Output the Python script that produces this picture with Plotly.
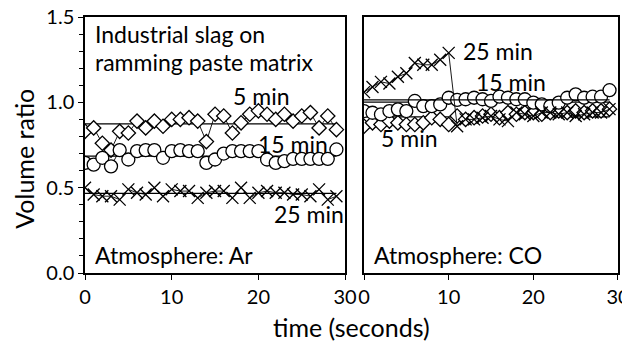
import plotly.graph_objects as go

# time (s)
t = list(range(30))

# Atmosphere: Ar
ar_5 = [0.83, 0.85, 0.76, 0.72, 0.83, 0.82, 0.89, 0.85, 0.89, 0.86,
        0.90, 0.90, 0.91, 0.89, 0.77, 0.93, 0.92, 0.82, 0.88, 0.93,
        0.95, 0.93, 0.90, 0.93, 0.89, 0.92, 0.94, 0.85, 0.92, 0.84]
ar_15 = [0.645, 0.635, 0.675, 0.625, 0.72, 0.665, 0.714, 0.72, 0.72, 0.675,
         0.714, 0.72, 0.714, 0.714, 0.645, 0.665, 0.70, 0.714, 0.714, 0.714,
         0.714, 0.665, 0.645, 0.655, 0.669, 0.669, 0.669, 0.669, 0.669, 0.724]
ar_25 = [0.50, 0.46, 0.45, 0.45, 0.43, 0.49, 0.47, 0.46, 0.50, 0.45,
         0.49, 0.48, 0.48, 0.44, 0.47, 0.48, 0.48, 0.44, 0.50, 0.44,
         0.47, 0.48, 0.47, 0.47, 0.46, 0.46, 0.45, 0.49, 0.43, 0.45]

# Atmosphere: CO
co_5 = [0.86, 0.88, 0.87, 0.89, 0.88, 0.87, 0.87, 0.88, 0.91, 0.90,
        0.87, 0.92, 0.90, 0.91, 0.92, 0.93, 0.91, 0.94, 0.93, 0.94,
        0.94, 0.93, 0.94, 0.95, 0.94, 0.95, 0.94, 0.95, 0.95, 0.96]
co_15 = [0.949, 0.939, 0.929, 0.949, 0.959, 0.949, 1.008, 0.978, 0.978, 0.988,
         1.027, 1.014, 1.018, 1.027, 1.018, 1.008, 1.033, 1.027, 1.018, 1.018,
         0.998, 0.988, 0.978, 0.998, 1.027, 1.047, 1.027, 1.033, 1.033, 1.071]
co_25 = [1.06, 1.09, 1.12, 1.11, 1.15, 1.17, 1.23, 1.22, 1.22, 1.25,
         1.29, 0.86, 0.90, 0.90, 0.91, 0.92, 0.90, 0.89, 0.94, 0.93,
         0.92, 0.94, 0.94, 0.93, 0.94, 0.92, 0.93, 0.94, 0.94, 0.96]

y_ticks = [0.0, 0.5, 1.0, 1.5]
x_ticks = [0, 10, 20, 30]

FONT = "Lato"
TICK_SIZE = 20
ANN_SIZE = 23
TITLE_SIZE = 25

fig = go.Figure()

def mean(v):
    return sum(v) / len(v)

def add_series(vals, sym, size, xa, ya):
    fig.add_trace(go.Scatter(
        x=[t[0], t[-1]], y=[mean(vals)] * 2, mode="lines",
        line=dict(color="black", width=1.2), xaxis=xa, yaxis=ya,
        showlegend=False, hoverinfo="skip"))
    fig.add_trace(go.Scatter(
        x=t, y=vals, mode="lines+markers",
        line=dict(color="black", width=0.9),
        marker=dict(symbol=sym, size=size, color="white",
                    line=dict(color="black", width=1.3)),
        xaxis=xa, yaxis=ya, showlegend=False))

for xa, ya, s5, s15, s25 in [("x", "y", ar_5, ar_15, ar_25),
                             ("x2", "y2", co_5, co_15, co_25)]:
    add_series(s5, "diamond", 11, xa, ya)
    add_series(s15, "circle", 13, xa, ya)
    add_series(s25, "x-thin", 12, xa, ya)

axis_common = dict(showline=True, linecolor="black", linewidth=1.5, mirror=True,
                   showgrid=False, zeroline=False, ticks="outside", ticklen=5,
                   tickcolor="black", tickwidth=1.2, automargin=False,
                   ticklabeloverflow="allow",
                   tickfont=dict(family=FONT, size=TICK_SIZE, color="black"))

# the page body adds an 8px offset, so the figure is sized 8px smaller
fig.update_layout(
    width=622, height=336,
    margin=dict(l=77, r=12, t=9, b=71),
    paper_bgcolor="white", plot_bgcolor="white",
    font=dict(family=FONT, size=TICK_SIZE, color="black"),
    xaxis=dict(domain=[0, 0.488], range=[0, 30], tickvals=x_ticks,
               anchor="y", **axis_common),
    xaxis2=dict(domain=[0.5235, 1], range=[0, 30], tickvals=x_ticks,
                anchor="y2", **axis_common),
    yaxis=dict(domain=[0, 1], range=[0, 1.5], tickvals=y_ticks,
               ticktext=[f"{v:.1f}" for v in y_ticks], anchor="x",
               minor=dict(dtick=0.1, ticks="outside", ticklen=4,
                          tickcolor="black", tickwidth=1),
               **axis_common),
    yaxis2=dict(domain=[0, 1], range=[0, 1.5], anchor="x2", automargin=False,
                showline=True, linecolor="black", linewidth=1.5, mirror=True,
                showgrid=False, zeroline=False, showticklabels=False, ticks=""),
)

ann = [
    dict(x=0.9, y=1.40, xref="x", yref="y", text="Industrial slag on",
         xanchor="left", yanchor="middle"),
    dict(x=0.9, y=1.235, xref="x", yref="y", text="ramming paste matrix",
         xanchor="left", yanchor="middle"),
    dict(x=0.9, y=0.106, xref="x", yref="y", text="Atmosphere: Ar",
         xanchor="left", yanchor="middle"),
    dict(x=20.4, y=1.04, xref="x", yref="y", text="5 min", xanchor="center", yanchor="middle"),
    dict(x=24.0, y=0.753, xref="x", yref="y", text="15 min", xanchor="center", yanchor="middle"),
    dict(x=25.8, y=0.347, xref="x", yref="y", text="25 min", xanchor="center", yanchor="middle"),
    dict(x=1.0, y=0.106, xref="x2", yref="y2", text="Atmosphere: CO",
         xanchor="left", yanchor="middle"),
    dict(x=15.8, y=1.30, xref="x2", yref="y2", text="25 min", xanchor="center", yanchor="middle"),
    dict(x=17.4, y=1.118, xref="x2", yref="y2", text="15 min", xanchor="center", yanchor="middle"),
    dict(x=5.4, y=0.79, xref="x2", yref="y2", text="5 min", xanchor="center", yanchor="middle"),
    dict(x=0.5, y=-0.212, xref="paper", yref="paper", text="time (seconds)",
         xanchor="center", yanchor="middle", font=dict(size=TITLE_SIZE)),
    dict(x=-0.116, y=0.447, xref="paper", yref="paper", text="Volume ratio",
         textangle=-90, xanchor="center", yanchor="middle", font=dict(size=TITLE_SIZE)),
]
for a in ann:
    a["showarrow"] = False
    f = a.get("font", {})
    f.setdefault("size", ANN_SIZE)
    f.update(family=FONT, color="black")
    a["font"] = f
    fig.add_annotation(**a)

fig.write_html("out.html")
